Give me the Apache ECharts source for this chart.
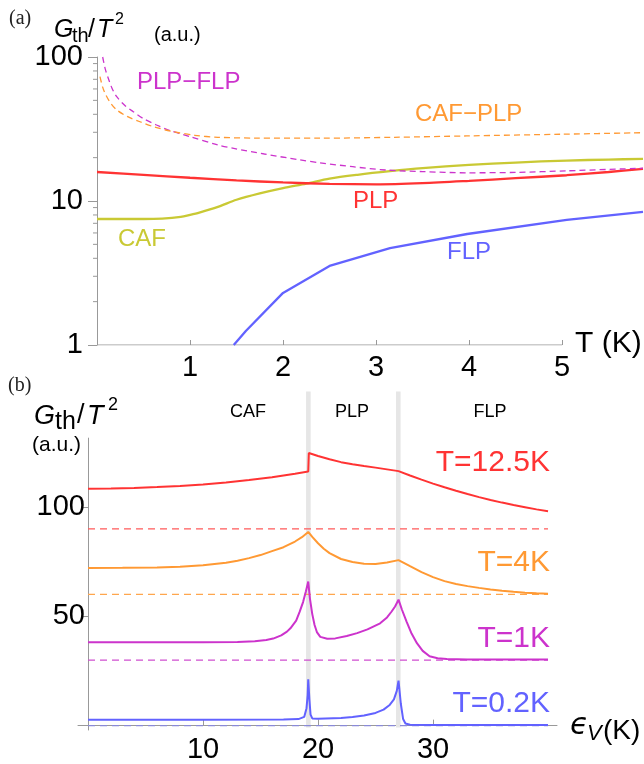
<!DOCTYPE html>
<html><head><meta charset="utf-8">
<script src="https://cdn.jsdelivr.net/npm/echarts@6/dist/echarts.min.js"></script>
<style>html,body{margin:0;padding:0;background:#fff}#main{width:644px;height:764px}</style>
</head><body><div id="main"></div>
<script>
// ---------- Panel (a): G_th/T^2 vs T (log scale) ----------
const aCAF = [[0,7.5],[0.5,7.5],[0.7,7.55],[0.9,7.75],[1.0,8.0],[1.1,8.3],[1.3,9.1],[1.5,10.2],[1.75,11.3],[2.0,12.3],[2.25,13.2],[2.5,14.3],[2.8,15.2],[3.15,16.1],[3.5,16.9],[4.0,17.8],[4.5,18.5],[5.05,19.1],[5.5,19.4],[5.87,19.6]];
const aPLP = [[0,15.9],[0.5,15.2],[1.0,14.5],[1.5,13.9],[2.0,13.45],[2.5,13.15],[3.0,13.05],[3.5,13.3],[4.0,13.8],[4.5,14.4],[5.05,15.1],[5.5,15.9],[5.87,16.7]];
const aFLP = [[1.47,1.0],[1.6,1.25],[2.0,2.3],[2.5,3.54],[3.15,4.7],[3.98,5.9],[5.05,7.4],[5.87,8.4]];
const aPLPFLP = [[0.061,100],[0.09,82],[0.122,71],[0.16,61],[0.212,53],[0.3,46],[0.39,41.7],[0.5,37.3],[0.64,33.7],[0.8,30.6],[1.0,28],[1.3,24.5],[1.47,23.2],[1.8,21.2],[2.18,19.3],[2.4,18.4],[2.75,17.3],[3.11,16.4],[3.5,16],[3.975,15.7],[4.5,15.8],[5.05,16.2],[5.87,16.9]];
const aCAFPLP = [[0.032,73],[0.06,62],[0.086,56],[0.14,48.5],[0.212,42.9],[0.33,38.5],[0.462,35.5],[0.62,32.6],[0.82,30.3],[1.05,28.6],[1.3,27.7],[1.7,27.35],[2.4,27.3],[3.2,27.7],[3.975,28.3],[5.0,29.1],[5.87,29.8]];
const aXTicks = [1, 2, 3, 4, 5];
const aAxisSpan = [0, 5];
const logMinorTicks = [2,3,4,5,6,7,8,9,20,30,40,50,60,70,80,90];

// ---------- Panel (b): G_th/T^2 vs eps_V (offset curves) ----------
const b125 = [[0,108.3],[2,108.4],[4,108.7],[6,109.1],[8,109.6],[10,110.3],[12,111.2],[14,112.3],[16,113.6],[18,115.2],[19.15,116.2],[19.2,124.7],[20,123.3],[21,121.8],[22,120.5],[23,119.5],[24,118.7],[25,118.0],[26,117.2],[27,116.4],[28,114.4],[29,112.5],[30,110.7],[31,109.0],[32,107.4],[33,105.9],[34,104.5],[35,103.2],[36,102.0],[37,100.9],[38,99.9],[39,98.9],[40,98.0]];
const b4 = [[0,72.1],[3,72.15],[6,72.3],[8,72.7],[10,73.4],[12,74.5],[13,75.4],[14,76.6],[15,78.0],[16,79.8],[17,81.6],[18,84.2],[18.6,86.2],[19.15,88.6],[19.5,86.3],[20,83.4],[20.5,80.9],[21,78.9],[22,76.2],[23,74.8],[24,74.0],[25,73.9],[26,74.6],[27,75.7],[28,72.9],[29,70.2],[30,67.9],[31,66.1],[32,64.8],[33,63.8],[34,63.0],[35,62.3],[36,61.7],[37,61.2],[38,60.8],[39,60.5],[40,60.3]];
const b1 = [[0,38.1],[5,38.1],[10,38.1],[13,38.2],[14.5,38.6],[15.5,39.2],[16.1,39.8],[16.8,41.3],[17.3,43.0],[17.6,44.5],[18.1,48],[18.4,52],[18.7,56.5],[18.95,61.5],[19.15,65.9],[19.3,58],[19.5,51],[19.7,46],[19.9,42.8],[20.2,40.6],[20.8,39.7],[21.5,39.9],[22.5,41.0],[23.4,42.3],[24.3,44.0],[25.4,46.8],[26,49.5],[26.4,52.2],[26.7,54.5],[27,57.6],[27.3,53],[27.7,47.6],[28.1,42.5],[28.6,37.7],[29.1,34.2],[29.7,31.7],[30.4,30.8],[31.2,30.5],[33,30.3],[36,30.2],[40,30.2]];
const b02 = [[0,2.7],[10,2.7],[17,2.8],[18.3,3.0],[18.8,4],[19.0,8],[19.1,14],[19.15,21.2],[19.25,12],[19.35,5],[19.5,3.3],[20,3.2],[22,3.5],[23,3.9],[24,4.6],[25,5.8],[25.7,7.3],[26.2,9.3],[26.6,12],[26.85,15.9],[27,20.6],[27.05,18],[27.2,10],[27.4,3],[27.6,1],[28,0.4],[30,0.3],[40,0.3]];
const offsets = [90, 60, 30, 0];
const epsRange = [0, 40];
const phaseBoundaries = [19.16, 26.98];
const bXTicks = [10, 20, 30];
const bYTicks = [50, 100];

// ---------- styles ----------
const FONT = '"Liberation Sans", Arial, sans-serif';
const SERIF = '"Liberation Serif", "Times New Roman", serif';
const AX = '#999';
const C = { caf:'#c9c934', plp:'#ff3333', flp:'#6262ff', pf:'#cc33cc', cp:'#ff9933',
            r:'#ff3333', o:'#ff9933', m:'#cc33cc', b:'#6262ff' };

function txt(text, x, y, size, color, o) {
  o = o || {};
  const font = (o.italic ? 'italic ' : '') + size + 'px ' + (o.family || FONT);
  const align = o.align || 'left';
  return { type:'text', x:x, y:y, z:100, silent:true,
    style:{ text:text, font:font, fill:color, align:align, textAlign:align,
            verticalAlign:'middle', textVerticalAlign:'middle' } };
}

const lineA = (name, data, color, width, dashed, smooth) => ({
  type:'line', name, xAxisIndex:0, yAxisIndex:0, data, symbol:'none', showSymbol:false,
  smooth: smooth ? 0.3 : false, clip:false, z:3,
  lineStyle:{ color, width, type: dashed ? [6,4] : 'solid' }
});
const lineB = (name, data, color) => ({
  type:'line', name, xAxisIndex:1, yAxisIndex:1, data, symbol:'none', showSymbol:false,
  smooth:false, z:4, lineStyle:{ color, width:2 }
});
const dashColors = ['#ff5a5a', '#ffa64d', '#d04fd0', '#8a8ad8'];

const option = {
  animation:false,
  backgroundColor:'#fff',
  grid:[
    { left:97, top:57, width:546, height:288 },
    { left:78, top:438.1, width:479, height:294.8 }
  ],
  xAxis:[
    { type:'value', gridIndex:0, min:0, max:5.87,
      axisLine:{ show:false, onZero:false },
      axisTick:{ inside:true, length:5, customValues:aXTicks, lineStyle:{ color:AX } },
      axisLabel:{ customValues:aXTicks, fontSize:29, fontFamily:FONT, color:'#000', margin:8 },
      splitLine:{ show:false } },
    { type:'value', gridIndex:1, min:-0.87, max:40.78,
      axisLine:{ onZero:true, lineStyle:{ color:AX, width:1 } },
      axisTick:{ inside:true, length:6, customValues:bXTicks, lineStyle:{ color:AX } },
      axisLabel:{ customValues:bXTicks, fontSize:29, fontFamily:FONT, color:'#000', margin:5 },
      splitLine:{ show:false } }
  ],
  yAxis:[
    { type:'log', gridIndex:0, min:1, max:100, logBase:10,
      axisLine:{ show:true, onZero:false, lineStyle:{ color:AX, width:1 } },
      axisTick:{ show:true, length:9, lineStyle:{ color:AX } },
      axisLabel:{ fontSize:29, fontFamily:FONT, color:'#000', margin:14 },
      splitLine:{ show:false } },
    { type:'value', gridIndex:1, min:-2, max:131.5,
      axisLine:{ show:true, onZero:true, lineStyle:{ color:AX, width:1 } },
      axisTick:{ show:true, length:5, customValues:bYTicks, lineStyle:{ color:AX } },
      axisLabel:{ customValues:bYTicks, fontSize:29, fontFamily:FONT, color:'#000', margin:-7 },
      splitLine:{ show:false } }
  ],
  series:[
    // x axis line of (a), drawn only over 0..5
    { type:'line', xAxisIndex:0, yAxisIndex:0, symbol:'none', silent:true, z:2,
      data: aAxisSpan.map(v => [v, 1]), lineStyle:{ color:AX, width:1 } },
    // minor log ticks in (a)
    { type:'custom', xAxisIndex:0, yAxisIndex:0, z:2, silent:true,
      data: logMinorTicks.map(v => [0, v]), encode:{ x:0, y:1 },
      renderItem:(params, api) => {
        const p = api.coord([api.value(0), api.value(1)]);
        return { type:'line', shape:{ x1:p[0]-4, y1:p[1], x2:p[0], y2:p[1] },
                 style:{ stroke:AX, lineWidth:1 } };
      } },
    lineA('CAF', aCAF, C.caf, 2.3, false, true),
    lineA('PLP', aPLP, C.plp, 2.3, false, true),
    lineA('FLP', aFLP, C.flp, 2.3, false, false),
    lineA('PLP−FLP', aPLPFLP, C.pf, 1.3, true, true),
    lineA('CAF−PLP', aCAFPLP, C.cp, 1.3, true, true),
    // phase boundary bands in (b)
    { type:'custom', xAxisIndex:1, yAxisIndex:1, z:1, silent:true,
      data: phaseBoundaries.map(v => [v, 0]), encode:{ x:0, y:1 },
      renderItem:(params, api) => {
        const x = api.value(0);
        const top = api.coord([x, 152.8]);
        const bot = api.coord([x, -0.8]);
        return { type:'rect', shape:{ x:top[0]-2.3, y:top[1], width:4.6, height:bot[1]-top[1] },
                 style:{ fill:'#e6e6e6' } };
      } },
    // dashed baselines
    ...offsets.map((off, i) => ({
      type:'line', xAxisIndex:1, yAxisIndex:1, symbol:'none', z:3, silent:true,
      data: [[epsRange[0], off], [epsRange[1], off]],
      lineStyle:{ color:dashColors[i], width:1.2, type:[7,5] }
    })),
    lineB('T=12.5K', b125, C.r),
    lineB('T=4K', b4, C.o),
    lineB('T=1K', b1, C.m),
    lineB('T=0.2K', b02, C.b)
  ],
  graphic:[
    // panel (a) labels
    txt('(a)', 9, 19, 20, '#222', { family:SERIF }),
    txt('G', 54, 30.5, 25, '#000', { italic:true }),
    txt('th', 72, 36.5, 20, '#000'),
    txt('/', 88, 30.5, 25, '#000'),
    txt('T', 97, 30.5, 25, '#000', { italic:true }),
    txt('2', 115, 20, 16, '#000'),
    txt('(a.u.)', 154, 35, 20, '#000'),
    txt('T (K)', 575, 344, 30, '#000'),
    txt('PLP−FLP', 137, 82.5, 24, C.pf),
    txt('CAF−PLP', 415, 114, 24, C.cp),
    txt('PLP', 353, 201, 24, C.plp),
    txt('FLP', 447, 252, 24, C.flp),
    txt('CAF', 118, 239, 24, C.caf),
    // panel (b) labels
    txt('(b)', 8, 386, 20, '#222', { family:SERIF }),
    txt('G', 34, 416, 27, '#000', { italic:true }),
    txt('th', 55, 422.5, 25, '#000'),
    txt('/', 77, 416, 27, '#000'),
    txt('T', 87, 416, 27, '#000', { italic:true }),
    txt('2', 108, 405.5, 18, '#000'),
    txt('(a.u.)', 32, 445, 21, '#000'),
    txt('CAF', 248, 412.5, 18, '#000', { align:'center' }),
    txt('PLP', 352, 412.5, 18, '#000', { align:'center' }),
    txt('FLP', 490, 412.5, 18, '#000', { align:'center' }),
    txt('T=12.5K', 550, 462.5, 30, C.r, { align:'right' }),
    txt('T=4K', 550, 562.5, 30, C.o, { align:'right' }),
    txt('T=1K', 550, 639, 30, C.m, { align:'right' }),
    txt('T=0.2K', 550, 704, 30, C.b, { align:'right' }),
    txt('ϵ', 570, 726, 30, '#000', { italic:true, family:'"DejaVu Sans", sans-serif' }),
    txt('V', 587, 734, 22, '#000', { italic:true }),
    txt('(K)', 603, 731, 28, '#000')
  ]
};

const chart = echarts.init(document.getElementById('main'), null, { renderer:'canvas' });
chart.setOption(option);
</script>
</body></html>
